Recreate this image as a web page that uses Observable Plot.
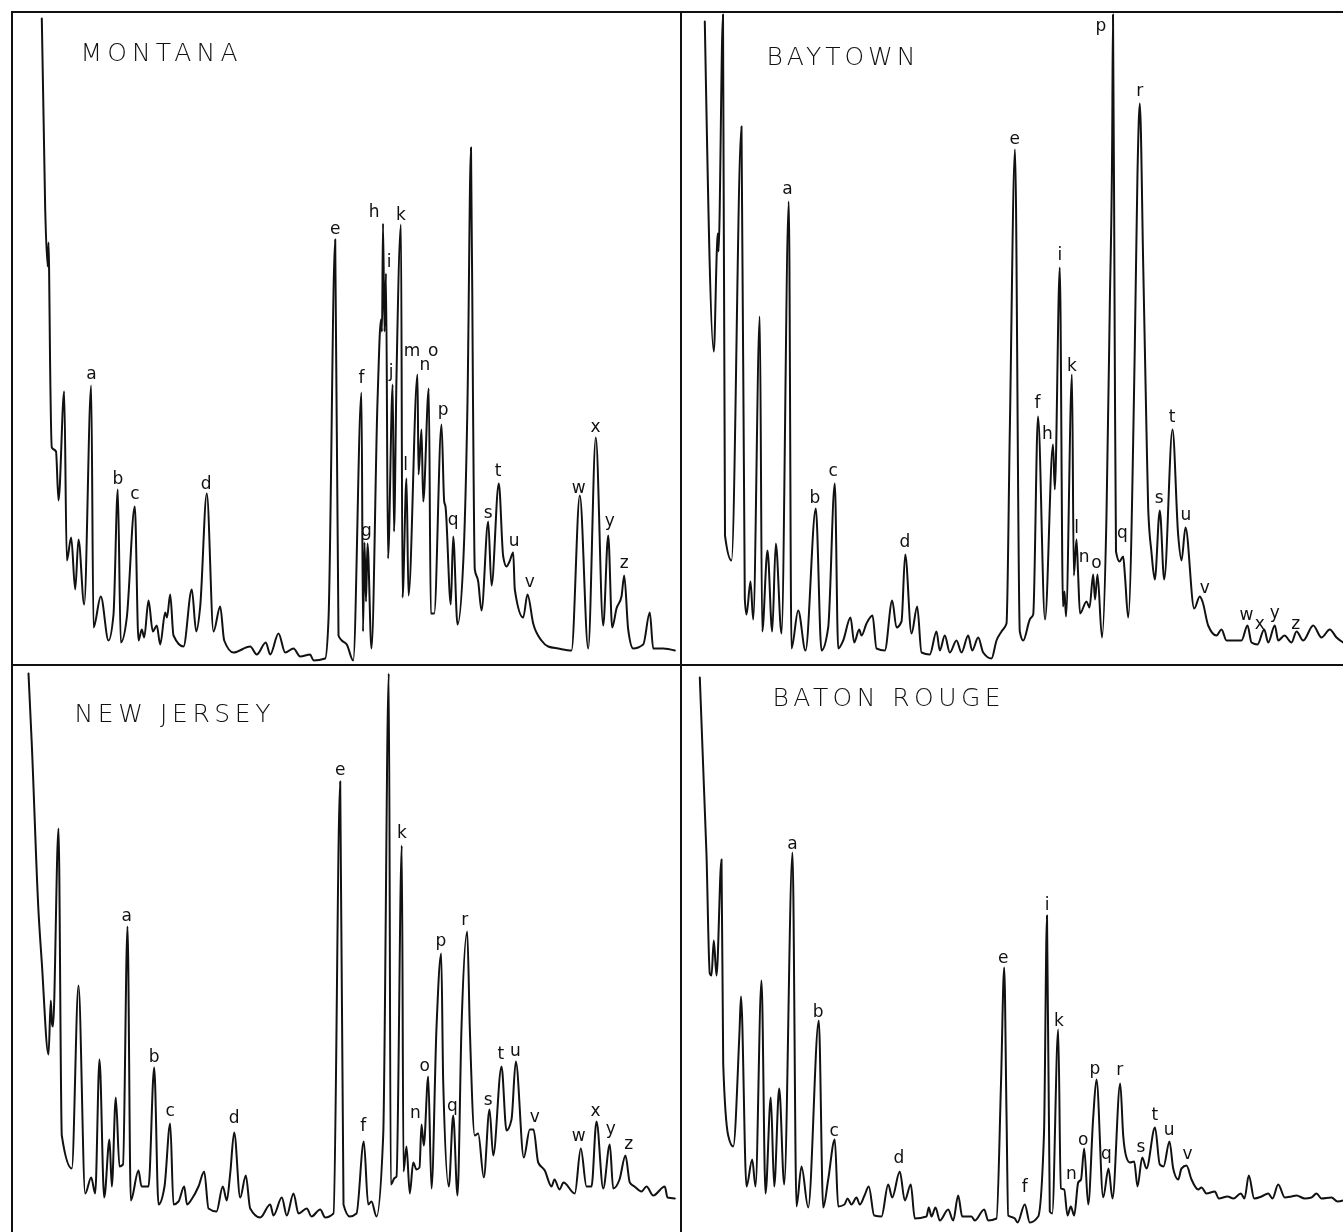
<!DOCTYPE html>
<html>
<head>
<meta charset="utf-8">
<script src="https://cdn.jsdelivr.net/npm/d3@7"></script>
<script src="https://cdn.jsdelivr.net/npm/@observablehq/plot@0.6"></script>
<style>
  body { margin: 0; background: #fff; }
  #fig { position: relative; width: 1343px; height: 1232px; overflow: hidden; background: #fff; }
  .panel { position: absolute; border-left: 2px solid #111; border-top: 2px solid #111; will-change: transform; }
  .panel svg { display: block; }
</style>
</head>
<body>
<div id="fig"></div>
<script>
// ---- Data: [retention time (min), detector response] ----
const panelNames = ["MONTANA", "BAYTOWN", "NEW JERSEY", "BATON ROUGE"];

const montanaTrace = [[2.83,648],[3.17,457],[3.42,400],[3.50,424],[3.56,397],[3.65,311],[3.83,219],[4.25,215],[4.50,166],[5.07,275],[5.33,106],[5.77,129],[6.17,77],[6.50,127],[7.07,62],[7.77,281],[8.00,39],[8.73,70],[9.50,26],[10.00,52],[10.43,177],[10.73,24],[11.33,49],[12.13,160],[12.50,26],[12.83,37],[13.07,29],[13.50,66],[13.93,35],[14.33,41],[14.67,22],[15.17,54],[15.35,49],[15.67,72],[16.00,31],[17.00,20],[17.83,77],[18.27,35],[18.67,60],[19.33,173],[20.00,35],[20.67,60],[21.07,26],[22.00,14],[23.67,20],[24.33,12],[25.23,24],[25.67,12],[26.50,33],[27.17,14],[28.00,18],[28.67,10],[29.67,12],[30.00,6],[31.17,8],[31.50,47],[32.17,427],[32.50,31],[32.83,26],[33.33,22],[33.97,6],[34.80,274],[34.95,35],[35.10,124],[35.25,65],[35.40,123],[35.80,18],[36.40,265],[36.75,347],[36.85,335],[36.95,443],[37.10,335],[37.25,393],[37.45,108],[37.92,282],[38.05,135],[38.30,290],[38.75,442],[38.90,69],[39.30,188],[39.50,71],[40.40,292],[40.50,192],[40.80,237],[40.97,165],[41.53,278],[41.73,53],[42.07,53],[42.80,242],[43.07,165],[43.20,160],[43.73,62],[43.97,130],[44.40,42],[45.00,110],[45.40,265],[45.75,519],[45.95,265],[46.13,97],[46.47,85],[46.80,56],[47.47,145],[47.80,81],[48.53,183],[48.97,110],[49.30,100],[49.60,105],[49.97,114],[50.13,77],[50.97,49],[51.40,72],[51.97,43],[52.80,26],[53.47,20],[54.47,18],[55.80,16],[56.63,171],[57.47,18],[58.23,229],[58.97,41],[59.47,131],[59.87,39],[60.30,58],[60.80,70],[61.07,91],[61.47,37],[61.97,18],[62.97,22],[63.63,54],[63.97,18],[64.97,18],[66.13,16]];

const baytownTrace = [[2.23,645],[3.13,315],[3.45,420],[3.53,433],[3.60,415],[4.05,652],[4.25,131],[4.90,106],[5.90,540],[6.23,68],[6.40,52],[6.80,85],[7.07,47],[7.73,350],[7.97,35],[8.50,116],[8.97,35],[9.33,123],[9.90,33],[10.63,465],[10.90,18],[11.57,56],[12.30,16],[13.33,158],[13.90,16],[14.57,39],[15.23,183],[15.57,18],[16.07,26],[16.80,49],[17.17,24],[17.67,37],[17.90,31],[18.40,43],[19.00,51],[19.40,18],[20.23,16],[20.97,66],[21.40,39],[21.90,45],[22.27,112],[22.90,33],[23.47,60],[23.90,14],[24.73,12],[25.40,35],[25.73,16],[26.23,31],[26.73,14],[27.40,26],[27.90,14],[28.57,31],[28.97,16],[29.57,29],[30.07,14],[30.90,8],[31.40,26],[31.90,35],[32.40,43],[32.73,235],[33.25,517],[33.73,35],[34.07,26],[34.73,47],[35.07,52],[35.55,250],[36.25,47],[37.05,222],[37.23,177],[37.73,399],[38.05,60],[38.20,75],[38.35,50],[38.95,292],[39.13,91],[39.40,127],[39.55,95],[39.75,53],[40.40,65],[40.70,59],[41.07,92],[41.25,67],[41.50,92],[41.95,29],[42.40,152],[42.73,361],[42.97,528],[43.05,652],[43.22,330],[43.35,115],[43.70,105],[44.07,110],[44.25,90],[44.57,49],[45.23,319],[45.50,494],[45.73,563],[46.07,402],[46.40,235],[46.57,158],[46.90,114],[47.23,87],[47.73,156],[48.17,87],[49.00,237],[49.57,131],[49.90,106],[50.30,139],[51.17,58],[51.73,70],[52.00,65],[52.57,41],[53.40,31],[53.90,37],[54.40,26],[55.90,26],[56.50,41],[56.90,24],[57.50,22],[58.17,37],[58.57,24],[59.23,41],[59.57,26],[60.20,31],[60.90,24],[61.40,35],[62.07,26],[63.07,41],[63.90,29],[64.73,37],[65.40,29],[66.07,24]];

const newJerseyTrace = [[1.50,560],[1.83,489],[2.50,322],[2.83,271],[3.50,179],[3.73,233],[3.85,210],[3.95,207],[4.50,405],[4.83,98],[5.83,65],[6.50,248],[7.17,40],[7.77,56],[8.17,40],[8.60,174],[9.07,36],[9.60,94],[9.83,47],[10.23,136],[10.60,67],[10.95,69],[11.40,307],[11.73,33],[12.50,63],[12.80,47],[13.50,47],[14.07,166],[14.50,29],[15.10,47],[15.67,110],[16.00,29],[16.50,32],[17.07,47],[17.35,29],[17.80,34],[18.50,47],[19.07,62],[19.50,25],[20.30,22],[20.93,47],[21.33,33],[21.67,60],[22.07,101],[22.67,36],[23.23,58],[23.67,25],[24.67,16],[25.67,29],[26.00,18],[26.83,36],[27.33,18],[28.00,40],[28.50,20],[29.33,25],[29.80,17],[30.67,24],[31.17,16],[32.00,20],[32.67,452],[33.00,29],[33.63,17],[34.30,20],[35.03,92],[35.47,29],[35.80,32],[36.30,17],[36.97,98],[37.53,560],[37.73,49],[38.07,55],[38.30,57],[38.83,388],[39.00,62],[39.30,87],[39.63,40],[39.97,71],[40.30,64],[40.60,66],[40.80,109],[41.03,88],[41.47,157],[41.80,45],[42.30,206],[42.77,280],[42.97,152],[43.53,47],[43.97,118],[44.40,38],[44.80,206],[45.37,302],[45.63,206],[46.13,98],[46.47,100],[47.03,56],[47.60,124],[47.97,78],[48.80,167],[49.30,103],[49.80,114],[50.23,172],[51.03,76],[51.63,104],[52.00,104],[52.47,71],[53.13,63],[53.80,47],[54.10,54],[54.60,44],[55.00,51],[56.13,40],[56.73,85],[57.30,47],[57.80,47],[58.30,112],[58.97,45],[59.63,89],[59.97,45],[60.60,54],[61.20,78],[61.63,51],[62.10,47],[62.80,42],[63.30,47],[63.97,38],[65.13,47],[65.40,36],[66.13,35]];

const batonRougeTrace = [[1.73,556],[2.40,379],[2.73,260],[2.90,258],[3.13,293],[3.40,258],[3.90,374],[4.07,170],[4.57,98],[5.07,87],[5.70,202],[5.85,237],[6.40,47],[6.97,74],[7.30,47],[7.90,253],[8.30,40],[8.83,136],[9.17,47],[9.67,145],[10.17,49],[11.00,381],[11.40,27],[11.90,67],[12.57,26],[13.63,213],[14.07,26],[14.57,54],[15.23,94],[15.57,27],[16.20,29],[16.50,35],[16.90,29],[17.40,36],[17.73,29],[18.20,38],[18.63,47],[19.17,18],[19.90,17],[20.57,49],[20.97,36],[21.73,62],[22.23,33],[22.83,49],[23.23,15],[24.40,17],[24.63,26],[24.90,17],[25.30,26],[25.73,13],[26.57,24],[27.07,13],[27.57,38],[27.97,17],[28.90,17],[29.23,13],[30.17,24],[30.57,13],[31.40,15],[31.85,150],[32.17,266],[32.40,120],[32.57,18],[33.23,15],[33.50,11],[34.23,29],[34.73,11],[35.57,17],[36.15,100],[36.45,318],[36.73,22],[36.97,20],[37.57,204],[37.83,45],[38.17,44],[38.50,18],[38.83,27],[39.17,18],[39.57,51],[39.85,54],[40.17,85],[40.57,29],[41.07,116],[41.40,154],[42.07,36],[42.60,65],[43.00,35],[43.77,150],[44.07,98],[44.40,76],[44.73,71],[45.17,72],[45.50,47],[45.97,76],[46.40,65],[47.25,106],[47.73,69],[48.10,67],[48.70,92],[49.07,65],[49.57,54],[49.90,65],[50.40,68],[50.90,54],[51.57,44],[51.90,46],[52.40,40],[53.23,42],[53.63,35],[54.50,37],[55.10,35],[55.83,40],[56.20,35],[56.63,58],[57.17,35],[57.90,37],[58.57,40],[59.00,35],[59.57,49],[60.23,36],[60.90,37],[61.40,38],[62.23,35],[62.90,36],[63.40,40],[63.90,35],[64.90,36],[65.50,32],[66.07,33]];

// Peak labels: [letter, retention time, response at label]
const montanaPeaks = [["a",7.80,293],["b",10.43,188],["c",12.13,173],["d",19.27,183],["e",32.17,438],["f",34.80,289],["g",35.30,136],["h",36.07,455],["i",37.55,405],["j",37.75,295],["k",38.73,452],["l",39.20,202],["m",39.85,316],["n",41.13,302],["o",41.97,316],["p",42.97,257],["q",43.97,147],["s",47.47,154],["t",48.47,196],["u",50.07,126],["v",51.63,85],["w",56.53,179],["x",58.20,240],["y",59.63,146],["z",61.07,104]];
const baytownPeaks = [["a",10.50,478],["b",13.23,169],["c",15.07,196],["d",22.23,125],["e",33.23,528],["f",35.50,264],["h",36.50,233],["i",37.73,412],["k",38.95,301],["l",39.40,139],["n",40.17,110],["o",41.40,104],["p",41.83,641],["q",44.00,134],["r",45.73,576],["s",47.67,169],["t",48.97,250],["u",50.33,152],["v",52.23,79],["w",56.40,52],["x",57.73,43],["y",59.23,54],["z",61.33,43]];
const newJerseyPeaks = [["a",11.33,318],["b",14.07,177],["c",15.67,123],["d",22.07,116],["e",32.67,464],["f",34.97,108],["k",38.83,401],["n",40.20,121],["o",41.13,168],["p",42.73,293],["q",43.90,128],["r",45.13,314],["s",47.47,134],["t",48.73,180],["u",50.20,183],["v",52.13,117],["w",56.53,98],["x",58.20,123],["y",59.73,105],["z",61.53,90]];
const batonRougePeaks = [["a",11.00,390],["b",13.57,222],["c",15.17,103],["d",21.63,76],["e",32.07,276],["f",34.23,47],["i",36.47,329],["k",37.63,213],["n",38.90,60],["o",40.07,94],["p",41.23,165],["q",42.40,80],["r",43.73,164],["s",45.83,87],["t",47.23,119],["u",48.67,104],["v",50.50,80]];

// ---- Layout (positions / sizes / styles) ----
const layout = [
  {trace: montanaTrace,   peaks: montanaPeaks,   left: 12,  top: 12,  width: 669, height: 653, tdx: 67, tdy: 39, tlen: 157},
  {trace: baytownTrace,   peaks: baytownPeaks,   left: 681, top: 12,  width: 662, height: 653, tdx: 84, tdy: 43, tlen: 149},
  {trace: newJerseyTrace, peaks: newJerseyPeaks, left: 12,  top: 665, width: 669, height: 567, tdx: 61, tdy: 47, tlen: 196},
  {trace: batonRougeTrace,peaks: batonRougePeaks,left: 681, top: 665, width: 662, height: 567, tdx: 90, tdy: 31, tlen: 228}
];
const font = "'DejaVu Sans', 'Noto Sans', sans-serif";
const ink = "#111";

const fig = document.getElementById("fig");
layout.forEach((p, i) => {
  const title = panelNames[i];
  const svg = Plot.plot({
    width: p.width,
    height: p.height,
    margin: 0,
    x: {domain: [0, p.width / 10], axis: null},
    y: {domain: [0, p.height], axis: null},
    marks: [
      Plot.line(p.trace, {x: d => d[0], y: d => d[1], curve: "monotone-x", stroke: ink, strokeWidth: 2, strokeLinejoin: "round", strokeLinecap: "round"}),
      Plot.text(p.peaks, {x: d => d[1], y: d => d[2], text: d => d[0], fontSize: 17, fontFamily: font, fill: ink}),
      Plot.text([title], {frameAnchor: "top-left", dx: p.tdx, dy: p.tdy, textAnchor: "start", lineAnchor: "middle", fontSize: 25, fontFamily: font, fontWeight: 300, fill: ink})
    ]
  });
  d3.select(svg).selectAll("text").filter(function() { return this.textContent === title; })
    .attr("textLength", p.tlen).attr("lengthAdjust", "spacing");
  const div = document.createElement("div");
  div.className = "panel";
  div.style.left = (p.left - 1) + "px";
  div.style.top = (p.top - 1) + "px";
  div.style.width = p.width + "px";
  div.style.height = p.height + "px";
  div.appendChild(svg);
  fig.appendChild(div);
});
</script>
</body>
</html>
